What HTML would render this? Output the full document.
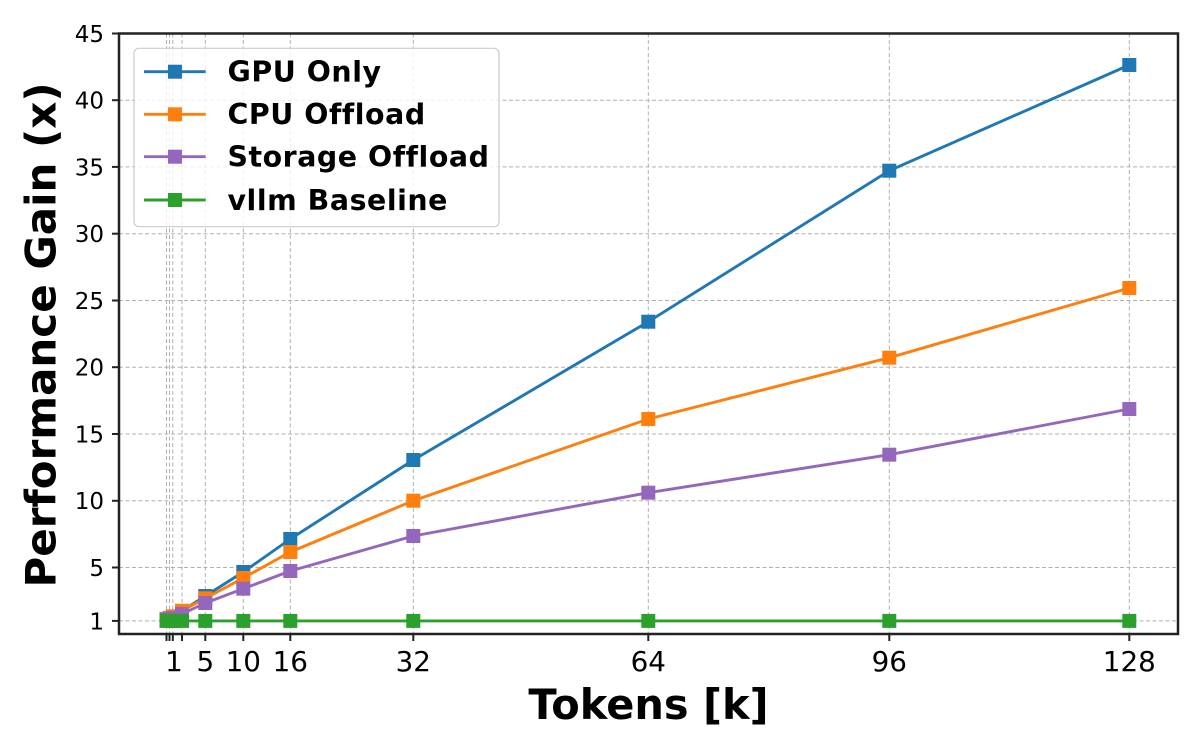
<!DOCTYPE html>
<html>
<head>
<meta charset="utf-8">
<style>
html,body{margin:0;padding:0;background:#fff;}
svg{display:block;}
text{font-family:"DejaVu Sans","Liberation Sans",sans-serif;fill:#000;}
</style>
</head>
<body>
<svg width="1200" height="750" viewBox="0 0 1200 750" xmlns="http://www.w3.org/2000/svg">
<rect x="0" y="0" width="1200" height="750" fill="#fff"/>

<!-- grid -->
<g stroke="#b0b0b0" stroke-width="1" stroke-dasharray="4 2.5" fill="none">
  <line x1="119" y1="620.9" x2="1178" y2="620.9"/>
  <line x1="119" y1="567.5" x2="1178" y2="567.5"/>
  <line x1="119" y1="500.8" x2="1178" y2="500.8"/>
  <line x1="119" y1="434.0" x2="1178" y2="434.0"/>
  <line x1="119" y1="367.2" x2="1178" y2="367.2"/>
  <line x1="119" y1="300.5" x2="1178" y2="300.5"/>
  <line x1="119" y1="233.7" x2="1178" y2="233.7"/>
  <line x1="119" y1="166.9" x2="1178" y2="166.9"/>
  <line x1="119" y1="100.2" x2="1178" y2="100.2"/>
  <line x1="166.5" y1="33.5" x2="166.5" y2="634"/>
  <line x1="169.5" y1="33.5" x2="169.5" y2="634"/>
  <line x1="172.8" y1="33.5" x2="172.8" y2="634"/>
  <line x1="182" y1="33.5" x2="182" y2="634"/>
  <line x1="205.3" y1="33.5" x2="205.3" y2="634"/>
  <line x1="243.3" y1="33.5" x2="243.3" y2="634"/>
  <line x1="290.3" y1="33.5" x2="290.3" y2="634"/>
  <line x1="413.3" y1="33.5" x2="413.3" y2="634"/>
  <line x1="648.3" y1="33.5" x2="648.3" y2="634"/>
  <line x1="889.3" y1="33.5" x2="889.3" y2="634"/>
  <line x1="1129.3" y1="33.5" x2="1129.3" y2="634"/>
</g>

<!-- GPU Only -->
<polyline fill="none" stroke="#1f77b4" stroke-width="2.9" stroke-linejoin="round"
  points="166.5,619 169.5,618.5 172.8,617 182,611 205.3,596 243.3,572 290.3,539 413.3,460 648.3,321.7 889.3,170.7 1129.3,65"/>
<g fill="#1f77b4">
  <rect x="159.5" y="612" width="14" height="14"/>
  <rect x="162.5" y="611.5" width="14" height="14"/>
  <rect x="165.8" y="610" width="14" height="14"/>
  <rect x="175" y="604" width="14" height="14"/>
  <rect x="198.3" y="589" width="14" height="14"/>
  <rect x="236.3" y="565" width="14" height="14"/>
  <rect x="283.3" y="532" width="14" height="14"/>
  <rect x="406.3" y="453" width="14" height="14"/>
  <rect x="641.3" y="314.7" width="14" height="14"/>
  <rect x="882.3" y="163.7" width="14" height="14"/>
  <rect x="1122.3" y="58" width="14" height="14"/>
</g>

<!-- CPU Offload -->
<polyline fill="none" stroke="#ff7f0e" stroke-width="2.9" stroke-linejoin="round"
  points="166.5,619 169.5,618 172.8,616.3 182,610.7 205.3,598.3 243.3,578 290.3,552 413.3,500.7 648.3,419 889.3,357.7 1129.3,288"/>
<g fill="#ff7f0e">
  <rect x="159.5" y="612" width="14" height="14"/>
  <rect x="162.5" y="611" width="14" height="14"/>
  <rect x="165.8" y="609.3" width="14" height="14"/>
  <rect x="175" y="603.7" width="14" height="14"/>
  <rect x="198.3" y="591.3" width="14" height="14"/>
  <rect x="236.3" y="571" width="14" height="14"/>
  <rect x="283.3" y="545" width="14" height="14"/>
  <rect x="406.3" y="493.7" width="14" height="14"/>
  <rect x="641.3" y="412" width="14" height="14"/>
  <rect x="882.3" y="350.7" width="14" height="14"/>
  <rect x="1122.3" y="281" width="14" height="14"/>
</g>

<!-- Storage Offload -->
<polyline fill="none" stroke="#9467bd" stroke-width="2.9" stroke-linejoin="round"
  points="166.5,619.5 169.5,619 172.8,618 182,614 205.3,603 243.3,588.7 290.3,571 413.3,536 648.3,492.7 889.3,454.7 1129.3,409"/>
<g fill="#9467bd">
  <rect x="159.5" y="612.5" width="14" height="14"/>
  <rect x="162.5" y="612" width="14" height="14"/>
  <rect x="165.8" y="611" width="14" height="14"/>
  <rect x="175" y="607" width="14" height="14"/>
  <rect x="198.3" y="596" width="14" height="14"/>
  <rect x="236.3" y="581.7" width="14" height="14"/>
  <rect x="283.3" y="564" width="14" height="14"/>
  <rect x="406.3" y="529" width="14" height="14"/>
  <rect x="641.3" y="485.7" width="14" height="14"/>
  <rect x="882.3" y="447.7" width="14" height="14"/>
  <rect x="1122.3" y="402" width="14" height="14"/>
</g>

<!-- vllm Baseline -->
<polyline fill="none" stroke="#2ca02c" stroke-width="2.9"
  points="166.5,620.9 1129.3,620.9"/>
<g fill="#2ca02c">
  <rect x="159.5" y="613.9" width="14" height="14"/>
  <rect x="162.5" y="613.9" width="14" height="14"/>
  <rect x="165.8" y="613.9" width="14" height="14"/>
  <rect x="175" y="613.9" width="14" height="14"/>
  <rect x="198.3" y="613.9" width="14" height="14"/>
  <rect x="236.3" y="613.9" width="14" height="14"/>
  <rect x="283.3" y="613.9" width="14" height="14"/>
  <rect x="406.3" y="613.9" width="14" height="14"/>
  <rect x="641.3" y="613.9" width="14" height="14"/>
  <rect x="882.3" y="613.9" width="14" height="14"/>
  <rect x="1122.3" y="613.9" width="14" height="14"/>
</g>

<!-- spines -->
<rect x="119" y="33.5" width="1059" height="600.5" fill="none" stroke="#222" stroke-width="2.5"/>

<!-- ticks -->
<g stroke="#222" stroke-width="2">
  <line x1="112" y1="620.9" x2="119" y2="620.9"/>
  <line x1="112" y1="567.5" x2="119" y2="567.5"/>
  <line x1="112" y1="500.8" x2="119" y2="500.8"/>
  <line x1="112" y1="434.0" x2="119" y2="434.0"/>
  <line x1="112" y1="367.2" x2="119" y2="367.2"/>
  <line x1="112" y1="300.5" x2="119" y2="300.5"/>
  <line x1="112" y1="233.7" x2="119" y2="233.7"/>
  <line x1="112" y1="166.9" x2="119" y2="166.9"/>
  <line x1="112" y1="100.2" x2="119" y2="100.2"/>
  <line x1="112" y1="33.5" x2="119" y2="33.5"/>
  <line x1="166.5" y1="634" x2="166.5" y2="641"/>
  <line x1="169.5" y1="634" x2="169.5" y2="641"/>
  <line x1="172.8" y1="634" x2="172.8" y2="641"/>
  <line x1="182" y1="634" x2="182" y2="641"/>
  <line x1="205.3" y1="634" x2="205.3" y2="641"/>
  <line x1="243.3" y1="634" x2="243.3" y2="641"/>
  <line x1="290.3" y1="634" x2="290.3" y2="641"/>
  <line x1="413.3" y1="634" x2="413.3" y2="641"/>
  <line x1="648.3" y1="634" x2="648.3" y2="641"/>
  <line x1="889.3" y1="634" x2="889.3" y2="641"/>
  <line x1="1129.3" y1="634" x2="1129.3" y2="641"/>
</g>

<!-- y tick labels -->
<g font-size="23" text-anchor="end">
  <text x="104" y="629.3">1</text>
  <text x="104" y="575.9">5</text>
  <text x="104" y="509.2">10</text>
  <text x="104" y="442.4">15</text>
  <text x="104" y="375.6">20</text>
  <text x="104" y="308.9">25</text>
  <text x="104" y="242.1">30</text>
  <text x="104" y="175.3">35</text>
  <text x="104" y="108.6">40</text>
  <text x="104" y="41.9">45</text>
</g>

<!-- x tick labels -->
<g font-size="27.8" text-anchor="middle">
  <text x="174" y="671">1</text>
  <text x="205.3" y="671">5</text>
  <text x="243.3" y="671">10</text>
  <text x="290.3" y="671">16</text>
  <text x="413.3" y="671">32</text>
  <text x="648.3" y="671">64</text>
  <text x="889.3" y="671">96</text>
  <text x="1129.3" y="671">128</text>
</g>

<!-- axis labels -->
<text x="648.5" y="719" font-size="41.5" font-weight="bold" text-anchor="middle">Tokens [k]</text>
<text transform="translate(55.5,335) rotate(-90)" x="0" y="0" font-size="42" font-weight="bold" text-anchor="middle">Performance Gain (x)</text>

<!-- legend -->
<rect x="134" y="48.3" width="365" height="178.4" rx="5" ry="5" fill="rgba(255,255,255,0.8)" stroke="#cccccc" stroke-width="1.2"/>
<g stroke-width="2.9">
  <line x1="144" y1="71.7" x2="205.7" y2="71.7" stroke="#1f77b4"/>
  <line x1="144" y1="114.3" x2="205.7" y2="114.3" stroke="#ff7f0e"/>
  <line x1="144" y1="156.7" x2="205.7" y2="156.7" stroke="#9467bd"/>
  <line x1="144" y1="200" x2="205.7" y2="200" stroke="#2ca02c"/>
</g>
<rect x="168" y="64.7" width="14" height="14" fill="#1f77b4"/>
<rect x="168" y="107.3" width="14" height="14" fill="#ff7f0e"/>
<rect x="168" y="149.7" width="14" height="14" fill="#9467bd"/>
<rect x="168" y="193" width="14" height="14" fill="#2ca02c"/>
<g font-size="28.4" font-weight="bold" letter-spacing="0.55">
  <text x="227.5" y="81.5">GPU Only</text>
  <text x="227.5" y="124.1">CPU Offload</text>
  <text x="227.5" y="166.5">Storage Offload</text>
  <text x="227.5" y="209.8">vllm Baseline</text>
</g>
</svg>
</body>
</html>
